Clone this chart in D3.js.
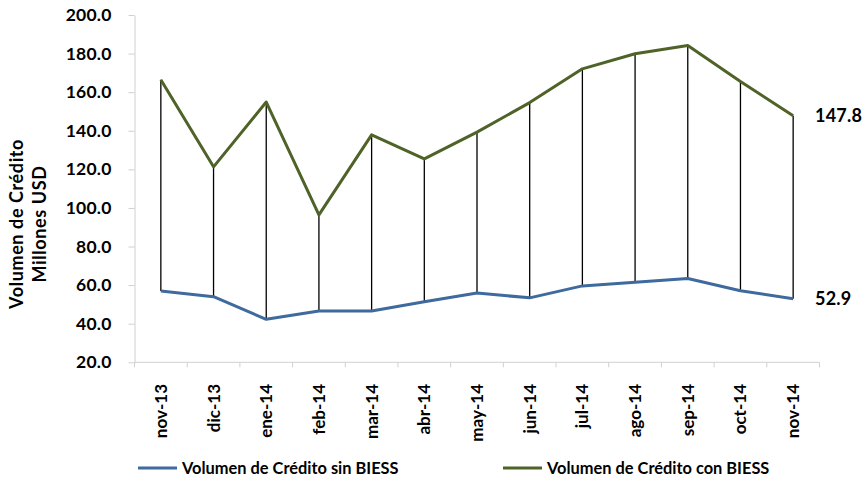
<!DOCTYPE html>
<html>
<head>
<meta charset="utf-8">
<script src="https://cdn.jsdelivr.net/npm/d3@7"></script>
<style>
  html, body { margin: 0; padding: 0; background: #fff; }
  svg { display: block; font-family: Lato, "Open Sans", sans-serif; font-weight: bold; }
</style>
</head>
<body>
<svg id="chart" width="863" height="479"></svg>
<script>
// Monthly credit volume, millions of USD
const months = ["nov-13", "dic-13", "ene-14", "feb-14", "mar-14", "abr-14", "may-14",
                "jun-14", "jul-14", "ago-14", "sep-14", "oct-14", "nov-14"];
const sinBIESS = [57.0, 54.0, 42.3, 46.6, 46.6, 51.4, 55.9, 53.4, 59.6, 61.5, 63.4, 57.1, 52.9];
const conBIESS = [166.4, 121.3, 154.9, 96.4, 137.9, 125.4, 139.3, 154.6, 172.1, 179.9, 184.2, 165.5, 147.8];
const yTicks = [20, 40, 60, 80, 100, 120, 140, 160, 180, 200];
const seriesNames = ["Volumen de Crédito sin BIESS", "Volumen de Crédito con BIESS"];
const seriesColors = ["#3e6a9d", "#4f6228"];

const svg = d3.select("#chart");
const plotLeft = 134.5, plotRight = 819.5, plotTop = 15, plotBottom = 362.3;

const x = d3.scaleBand().domain(months).range([plotLeft, plotRight]);
const y = d3.scaleLinear().domain([20, 200]).range([plotBottom, plotTop]);
const cx = m => x(m) + x.bandwidth() / 2;

// Y axis
const yAxis = svg.append("g")
  .attr("transform", `translate(${plotLeft},0)`)
  .call(d3.axisLeft(y).tickValues(yTicks).tickFormat(d3.format(".1f"))
        .tickSize(6).tickSizeOuter(0).tickPadding(17));
yAxis.select(".domain").attr("stroke", "#d0d0d0");
yAxis.selectAll(".tick line").attr("stroke", "#d0d0d0");
yAxis.selectAll(".tick text")
  .attr("font-family", "Lato, sans-serif").attr("font-weight", "bold")
  .attr("font-size", 17.5).attr("letter-spacing", 0.2).attr("fill", "#000");

// X axis line with ticks at category boundaries
svg.append("line")
  .attr("x1", plotLeft).attr("x2", plotRight).attr("y1", plotBottom).attr("y2", plotBottom)
  .attr("stroke", "#d0d0d0");
const bounds = months.map(m => x(m)).concat([plotRight]);
svg.append("g").selectAll("line").data(bounds).join("line")
  .attr("x1", d => d).attr("x2", d => d)
  .attr("y1", plotBottom).attr("y2", plotBottom + 5)
  .attr("stroke", "#d0d0d0");

// Category labels, rotated
svg.append("g").selectAll("text").data(months).join("text")
  .attr("transform", d => `translate(${cx(d) + 6},384) rotate(-90)`)
  .attr("text-anchor", "end")
  .attr("font-size", 17)
  .text(d => d);

// High-low lines between the two series
svg.append("g").selectAll("line").data(months).join("line")
  .attr("x1", d => cx(d)).attr("x2", d => cx(d))
  .attr("y1", (d, i) => y(conBIESS[i]))
  .attr("y2", (d, i) => y(sinBIESS[i]))
  .attr("stroke", "#000").attr("stroke-width", 1.3);

// Series lines
const line = d3.line().x((d, i) => cx(months[i])).y(d => y(d));
[sinBIESS, conBIESS].forEach((s, k) => {
  svg.append("path").datum(s)
    .attr("d", line)
    .attr("fill", "none")
    .attr("stroke", seriesColors[k])
    .attr("stroke-width", 3)
    .attr("stroke-linejoin", "round");
});

// Last-value labels
const last = months.length - 1;
[sinBIESS, conBIESS].forEach(s => {
  svg.append("text")
    .attr("x", 815).attr("y", y(s[last]) + 6)
    .attr("font-size", 18).attr("letter-spacing", 0.2)
    .text(d3.format(".1f")(s[last]));
});

// Y axis title
const yTitle = svg.append("text")
  .attr("transform", "translate(0,224) rotate(-90)")
  .attr("text-anchor", "middle")
  .attr("font-size", 18)
  .attr("letter-spacing", 0.6);
yTitle.append("tspan").attr("x", 0).attr("y", 23).text("Volumen de Crédito");
yTitle.append("tspan").attr("x", 0).attr("y", 46).text("Millones USD");

// Legend
const legendX = [138, 503];
seriesNames.forEach((name, k) => {
  const g = svg.append("g").attr("transform", `translate(${legendX[k]},468)`);
  g.append("line").attr("x1", 0).attr("x2", 39).attr("y1", 0).attr("y2", 0)
    .attr("stroke", seriesColors[k]).attr("stroke-width", 3);
  g.append("text").attr("x", 44).attr("y", 6).attr("font-size", 16.4).text(name);
});
</script>
</body>
</html>
